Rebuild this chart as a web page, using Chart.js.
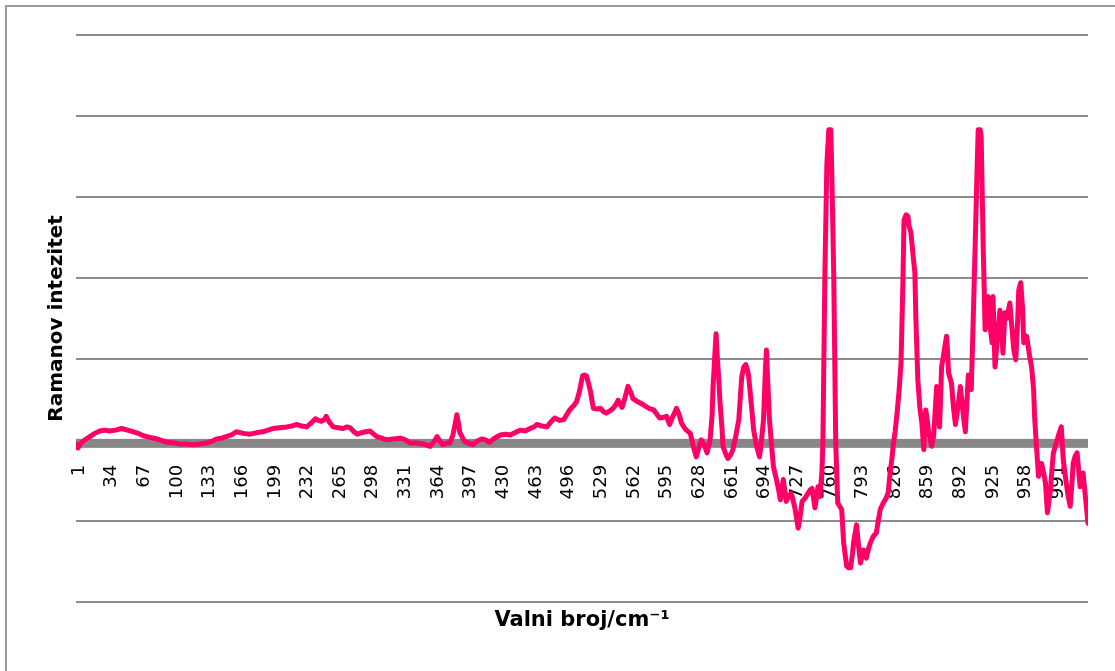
<!DOCTYPE html>
<html>
<head>
<meta charset="utf-8">
<script src="https://cdn.jsdelivr.net/npm/chart.js@4"></script>
<style>
  body { margin: 0; background: #fff; }
  #frame {
    position: absolute; left: 5px; top: 5px; right: 0; bottom: 0;
    border-left: 2px solid #9a9a9a; border-top: 2px solid #9a9a9a;
  }
  #wrap { position: absolute; left: 0; top: 0; width: 1115px; height: 671px; }
</style>
</head>
<body>
<div id="frame"></div>
<div id="wrap"><canvas id="ramanChart"></canvas></div>
<script>
// wavenumber channel (1..1024) and intensity
const channels = [
  1, 3, 6, 10, 15, 20, 25, 30, 35, 41, 47, 53, 59, 64, 69, 76, 83, 88, 93, 100,
  106, 112, 119, 126, 133, 138, 143, 148, 153, 158, 163, 170, 177, 184, 190, 195, 200, 207, 214, 219,
  224, 229, 234, 238, 243, 246, 249, 252, 254, 257, 261, 266, 271, 275, 278, 282, 285, 290, 294, 298,
  302, 305, 310, 315, 322, 329, 334, 339, 345, 352, 359, 363, 366, 369, 372, 376, 379, 382, 384, 386,
  388, 389, 392, 394, 398, 402, 406, 411, 415, 419, 424, 430, 435, 440, 445, 450, 455, 460, 464, 467,
  472, 477, 481, 485, 490, 494, 497, 500, 504, 507, 510, 513, 515, 517, 519, 521, 524, 528, 531, 534,
  537, 541, 544, 547, 549, 551, 553, 556, 559, 562, 564, 569, 575, 580, 585, 588, 591, 595, 598, 601,
  604, 606, 608, 611, 613, 616, 618, 622, 625, 628, 631, 633, 636, 639, 642, 644, 645, 647, 648, 649,
  651, 652, 654, 655, 658, 660, 663, 665, 668, 671, 674, 676, 678, 680, 681, 684, 686, 689, 692, 694,
  696, 698, 699, 700, 702, 704, 706, 709, 711, 713, 716, 719, 721, 724, 726, 728, 731, 733, 735, 738,
  740, 743, 745, 748, 751, 753, 755, 756, 758, 760, 762, 764, 765, 767, 769, 771, 773, 775, 777, 780,
  782, 784, 786, 787, 790, 792, 794, 797, 800, 802, 804, 807, 810, 812, 814, 817, 820, 822, 824, 826,
  827, 829, 831, 833, 835, 837, 838, 840, 842, 843, 845, 847, 849, 850, 852, 854, 856, 858, 860, 862,
  863, 866, 868, 869, 871, 872, 874, 876, 878, 881, 882, 883, 886, 888, 890, 893, 895, 898, 900, 903,
  906, 908, 910, 912, 913, 915, 916, 918, 920, 922, 923, 925, 927, 928, 930, 932, 935, 937, 938, 940,
  942, 945, 947, 949, 951, 953, 954, 956, 958, 959, 962, 965, 967, 969, 970, 972, 974, 977, 979, 981,
  983, 986, 988, 989, 992, 994, 997, 999, 1002, 1004, 1006, 1008, 1009, 1011, 1013, 1016, 1019, 1022, 1024
];
const intensity = [
  -5, -10, -4, 0, 4, 8, 11, 12, 11, 12, 14, 12, 10, 8, 5, 3, 1, -1, -3, -4,
  -5, -5, -6, -5, -4, -2, 1, 2, 4, 6, 10, 8, 7, 9, 10, 12, 14, 15, 16, 17,
  19, 17, 16, 20, 26, 24, 23, 25, 29, 22, 16, 15, 14, 16, 15, 10, 7, 9, 10, 11,
  7, 4, 2, 0, 1, 2, 0, -4, -4, -5, -8, -2, 4, -2, -6, -4, -4, 6, 18, 31,
  18, 9, 2, -2, -4, -6, -2, 1, 0, -3, 2, 6, 7, 6, 9, 12, 11, 14, 16, 19,
  17, 16, 22, 27, 24, 25, 31, 37, 42, 47, 60, 79, 80, 79, 70, 60, 39, 38, 39, 35,
  33, 36, 39, 44, 49, 44, 40, 52, 66, 58, 51, 47, 43, 39, 37, 32, 27, 28, 29, 19,
  28, 33, 39, 30, 21, 15, 12, 8, -8, -21, -8, 0, -6, -16, 0, 30, 66, 110, 131, 107,
  70, 46, 15, -8, -18, -23, -18, -12, 5, 25, 78, 90, 93, 85, 78, 40, 12, -8, -21, 0,
  25, 90, 111, 80, 25, -5, -33, -49, -60, -74, -49, -76, -70, -66, -75, -86, -109, -95, -76, -72,
  -68, -62, -60, -84, -58, -70, -40, -4, 202, 340, 383, 383, 330, 202, -4, -78, -82, -86, -127, -156,
  -158, -158, -140, -127, -105, -130, -152, -136, -146, -135, -127, -119, -115, -100, -86, -78, -72, -65, -40, -21,
  -8, 10, 33, 60, 95, 200, 271, 278, 276, 265, 256, 230, 206, 150, 74, 40, 21, -12, 37, 20,
  9, -8, 5, 25, 66, 40, 16, 90, 105, 128, 110, 83, 70, 40, 19, 45, 66, 30, 10, 80,
  62, 150, 243, 340, 383, 383, 374, 243, 136, 160, 177, 140, 120, 177, 90, 120, 160, 130, 107, 157,
  150, 169, 140, 111, 99, 150, 185, 194, 160, 120, 128, 103, 90, 62, 29, -10, -45, -29, -40, -53,
  -90, -62, -30, -16, -4, 5, 16, -25, -53, -70, -82, -50, -29, -20, -16, -58, -41, -78, -103
];
const xTickLabels = [1, 34, 67, 100, 133, 166, 199, 232, 265, 298, 331, 364, 397, 430, 463, 496,
  529, 562, 595, 628, 661, 694, 727, 760, 793, 826, 859, 892, 925, 958, 991];

// thick grey category axis line at zero
const zeroBand = {
    id: 'zeroBand',
    beforeDatasetsDraw(chart) {
        const {ctx, chartArea, scales} = chart;
        const y0 = scales.y.getPixelForValue(0);
        ctx.save();
        ctx.fillStyle = '#878787';
        ctx.fillRect(chartArea.left, y0 - 1, chartArea.right - chartArea.left, 9);
        ctx.restore();
    }
};

const ctx = document.getElementById('ramanChart').getContext('2d');
new Chart(ctx, {
    type: 'line',
    data: {
        datasets: [{
            data: channels.map((c, i) => ({x: c, y: intensity[i]})),
            borderColor: '#ff0066',
            borderWidth: 5,
            borderJoinStyle: 'round',
            borderCapStyle: 'round',
            pointRadius: 0,
            tension: 0,
            fill: false
        }]
    },
    options: {
        responsive: true,
        maintainAspectRatio: false,
        animation: false,
        layout: { padding: { left: 0, right: 27, top: 35, bottom: 0 } },
        plugins: {
            legend: { display: false },
            tooltip: { enabled: false },
            title: {
                display: true,
                position: 'bottom',
                fullSize: false,
                text: 'Valni broj/cm⁻¹',
                color: '#000',
                font: { family: 'DejaVu Sans', size: 21, weight: 'bold' },
                padding: { top: 6, bottom: 38 }
            }
        },
        scales: {
            x: {
                type: 'linear',
                position: { y: 0 },
                min: 1,
                max: 1024,
                afterBuildTicks: scale => {
                    scale.ticks = xTickLabels.map(v => ({ value: v }));
                },
                afterFit: scale => { scale.height = 7; },
                grid: { display: false },
                border: { display: false },
                ticks: {
                    autoSkip: false,
                    minRotation: 90,
                    maxRotation: 90,
                    padding: 17,
                    labelOffset: 3,
                    color: '#000',
                    font: { family: 'DejaVu Sans', size: 18 }
                }
            },
            y: {
                min: -200,
                max: 500,
                afterFit: scale => { scale.width = 76; },
                ticks: { display: false, stepSize: 100 },
                grid: { color: '#8c8c8c', lineWidth: 2, drawTicks: false },
                border: { display: false },
                title: {
                    display: true,
                    text: 'Ramanov intezitet',
                    color: '#000',
                    font: { family: 'DejaVu Sans', size: 20, weight: 'bold' },
                    padding: { top: 45, bottom: 0 }
                }
            }
        }
    },
    plugins: [zeroBand]
});
</script>
</body>
</html>
